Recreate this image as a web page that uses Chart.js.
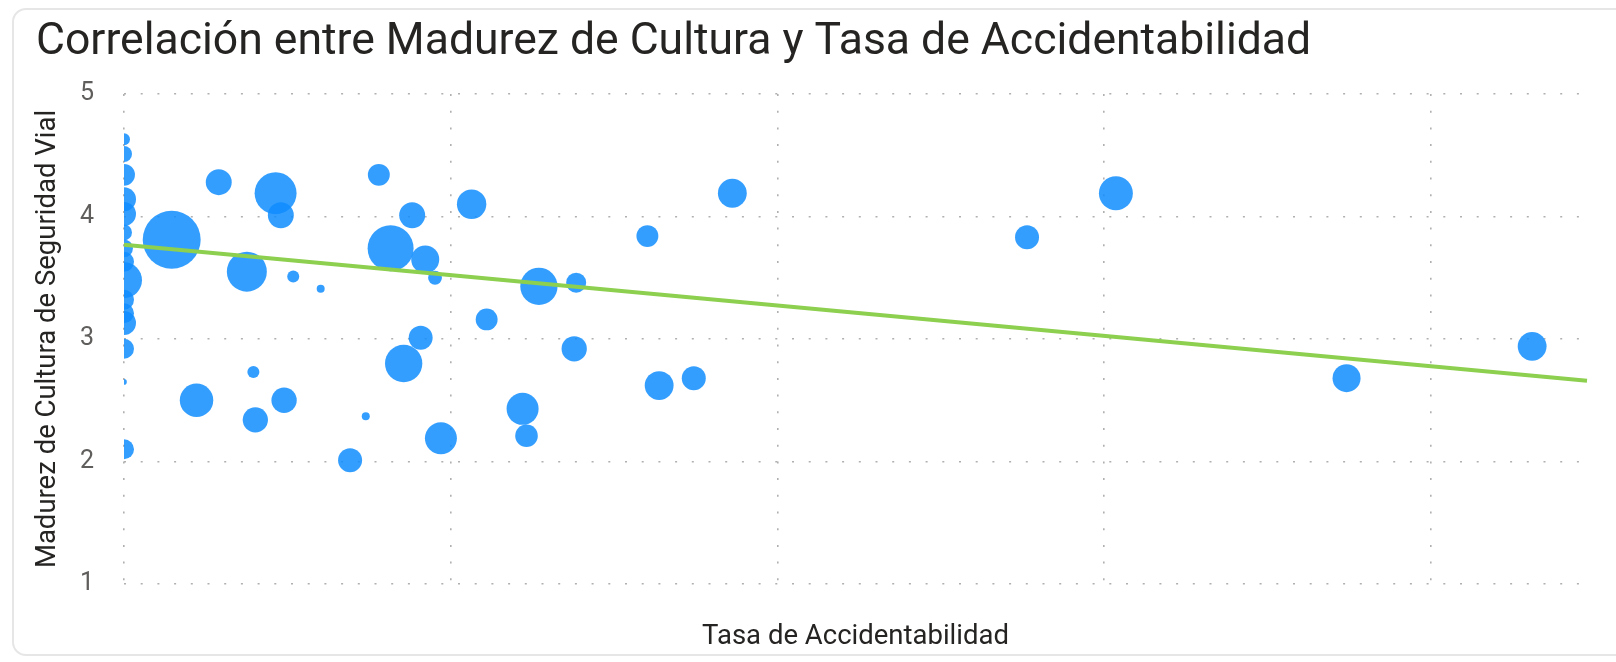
<!DOCTYPE html>
<html><head><meta charset="utf-8">
<script src="https://cdn.jsdelivr.net/npm/chart.js@4/dist/chart.umd.min.js"></script>
<style>
html,body{margin:0;padding:0;background:#fff;overflow:hidden}
#wrap{position:relative;width:1616px;height:662px}
#card{position:absolute;left:12px;top:8px;width:1640px;height:648px;border:2px solid #e6e6e6;border-radius:14px;box-sizing:border-box}
canvas{position:absolute;left:0;top:0}
</style></head><body>
<div id="wrap"><div id="card"></div><canvas id="c" width="1616" height="662"></canvas></div>
<script>
// Tasa de Accidentabilidad (eje X)
const tasa = [
  0, 0, 0, 0, 0, 0, 0, 0, 0, 0, 0, 0, 0, 0, 0,
  0.73, 1.45, 2.32, 2.40, 1.88, 2.59, 3.01, 3.90, 4.08, 4.41, 4.61, 4.76, 5.32,
  8.01, 6.35, 6.92, 5.55, 4.54, 4.28, 6.89, 3.70, 4.85, 6.10, 6.16, 3.46,
  1.98, 1.11, 2.01, 2.45, 9.31, 13.82, 8.19, 8.72, 15.18, 18.71, 21.55
];
// Madurez de Cultura de Seguridad Vial (eje Y)
const madurez = [
  4.63, 4.51, 4.34, 4.14, 4.02, 3.87, 3.74, 3.63, 3.48, 3.32, 3.21, 3.13, 2.92, 2.65, 2.10,
  3.81, 4.28, 4.19, 4.01, 3.55, 3.51, 3.41, 4.34, 3.74, 4.01, 3.65, 3.50, 4.10,
  3.84, 3.43, 3.46, 3.16, 3.01, 2.80, 2.92, 2.37, 2.19, 2.43, 2.21, 2.01,
  2.73, 2.50, 2.34, 2.50, 4.19, 3.83, 2.62, 2.68, 4.19, 2.68, 2.94
];
// Tamaño de burbuja
const tamano = [
  9, 16, 30, 36, 36, 16, 20, 25, 81, 25, 25, 36, 25, 2, 25,
  210, 42, 110, 42, 100, 9, 4, 30, 132, 42, 49, 12, 54,
  30, 87, 25, 30, 36, 87, 40, 4, 64, 64, 32, 36,
  9, 70, 40, 40, 52, 36, 52, 36, 72, 49, 52
];
// Línea de tendencia
const tendenciaX = [0, 22.39];
const tendenciaY = [3.77, 2.66];
// Ejes
const yTicks = [1, 2, 3, 4, 5];
const xGrid = [0, 5, 10, 15, 20];

const burbujas = tasa.map((x, i) => ({x: x, y: madurez[i], v: tamano[i]}));
const tendencia = tendenciaX.map((x, i) => ({x: x, y: tendenciaY[i]}));

const FONT = 'Roboto, "Noto Sans", sans-serif';
const gridColor = '#b0b0b0';

new Chart(document.getElementById('c'), {
  type: 'bubble',
  data: {
    datasets: [
      {
        type: 'line',
        data: tendencia,
        borderColor: '#8dcf4f',
        borderWidth: 4,
        pointRadius: 0,
        fill: false,
        order: 0,
        clip: false
      },
      {
        type: 'bubble',
        data: burbujas,
        backgroundColor: 'rgba(17,141,255,0.85)',
        borderWidth: 0,
        hoverBorderWidth: 0,
        radius: ctx => { const d = ctx.raw; return d ? Math.sqrt(d.v) * 2 : 0; },
        order: 1,
        clip: {left: 0, top: 40, right: 40, bottom: 40}
      }
    ]
  },
  options: {
    responsive: false,
    devicePixelRatio: 1,
    animation: false,
    layout: {padding: {left: 36, right: 28, top: 0, bottom: 0}},
    plugins: {
      legend: {display: false},
      tooltip: {enabled: false},
      title: {
        display: true,
        text: 'Correlación entre Madurez de Cultura y Tasa de Accidentabilidad',
        align: 'start',
        color: '#252423',
        font: {family: FONT, size: 44.5, weight: 'normal', lineHeight: 1.2},
        padding: {top: 16, bottom: 24.6}
      }
    },
    scales: {
      x: {
        type: 'linear',
        min: 0,
        max: 22.39,
        afterBuildTicks: s => { s.ticks = xGrid.map(v => ({value: v})); },
        afterFit: s => { s.height = 78; },
        ticks: {display: false, stepSize: 5},
        grid: {color: gridColor, lineWidth: 1.6, drawTicks: false},
        border: {display: false, dash: [2, 14.7]},
        title: {
          display: true,
          text: 'Tasa de Accidentabilidad',
          color: '#252423',
          font: {family: FONT, size: 27.5, lineHeight: 1.2},
          padding: {top: 0, bottom: 8}
        }
      },
      y: {
        type: 'linear',
        min: 1,
        max: 5,
        afterBuildTicks: s => { s.ticks = yTicks.map(v => ({value: v})); },
        afterFit: s => { s.width = 88; },
        ticks: {color: '#605e5c', font: {family: FONT, size: 25}, padding: 30},
        grid: {color: gridColor, lineWidth: 1.6, drawTicks: false},
        border: {display: false, dash: [2, 14.7]},
        title: {
          display: true,
          text: 'Madurez de Cultura de Seguridad Vial',
          color: '#252423',
          font: {family: FONT, size: 27.5, lineHeight: 1.2},
          padding: {top: -4, bottom: 0}
        }
      }
    }
  }
});
</script>
</body></html>
